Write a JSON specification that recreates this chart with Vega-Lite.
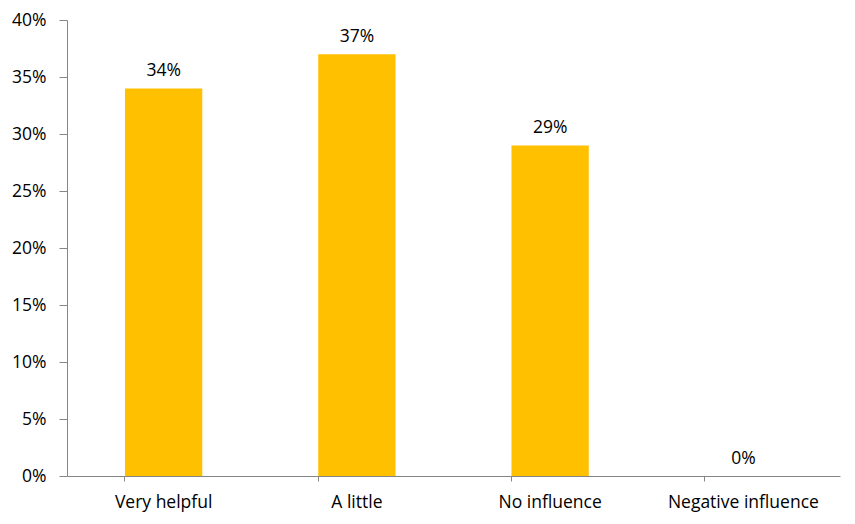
{
  "$schema": "https://vega.github.io/schema/vega-lite/v6.json",
  "width": 773,
  "height": 456,
  "autosize": {"type": "none"},
  "padding": {"left": 67, "top": 20, "right": 15, "bottom": 48},
  "background": "white",
  "config": {
    "view": {"stroke": null},
    "font": "Open Sans",
    "axis": {"labelFont": "Open Sans", "labelFontSize": 17.5, "labelColor": "#000000", "domainColor": "#868686", "tickColor": "#868686", "grid": false}
  },
  "data": {
    "values": [
      {"category": "Very helpful", "value": 0.34},
      {"category": "A little", "value": 0.37},
      {"category": "No influence", "value": 0.29},
      {"category": "Negative influence", "value": 0.0}
    ]
  },
  "encoding": {
    "x": {
      "field": "category",
      "type": "nominal",
      "sort": null,
      "scale": {"paddingInner": 0.6, "paddingOuter": 0.3},
      "axis": {"title": null, "labelAngle": 0, "bandPosition": 0, "tickSize": 5, "labelPadding": 12, "labelFontSize": 17.5}
    },
    "y": {
      "field": "value",
      "type": "quantitative",
      "scale": {"domain": [0, 0.4]},
      "axis": {"title": null, "format": ".0%", "values": [0, 0.05, 0.1, 0.15, 0.2, 0.25, 0.3, 0.35, 0.4], "tickSize": 8, "labelPadding": 13, "labelFontSize": 17.5}
    }
  },
  "layer": [
    {"mark": {"type": "bar", "color": "#FFC000"}},
    {
      "mark": {"type": "text", "dy": -17, "fontSize": 17.5, "font": "Open Sans", "color": "#000000"},
      "encoding": {"text": {"field": "value", "type": "quantitative", "format": ".0%"}}
    }
  ]
}
